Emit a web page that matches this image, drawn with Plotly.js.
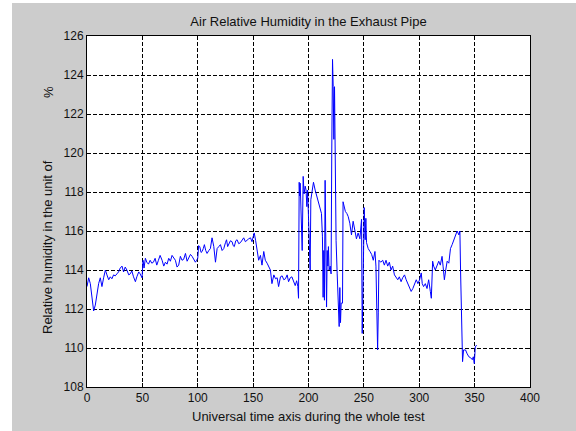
<!DOCTYPE html>
<html>
<head>
<meta charset="utf-8">
<script src="https://cdn.plot.ly/plotly-3.0.1.min.js"></script>
<style>
html,body{margin:0;padding:0;background:#ffffff;width:576px;height:431px;overflow:hidden;}
#chart{position:absolute;left:12px;top:3px;width:564px;height:428px;}
</style>
</head>
<body>
<div id="chart"></div>
<script>
const chartTitle = "Air Relative Humidity in the Exhaust Pipe";
const xLabel = "Universal time axis during the whole test";
const yLabelMain = "Relative humidity in the unit of";
const yLabelUnit = "%";
const xTicks = [0, 50, 100, 150, 200, 250, 300, 350, 400];
const yTicks = [108, 110, 112, 114, 116, 118, 120, 122, 124, 126];

const timeValues = [
0,1.5,3,4.5,6,7.5,9,10.5,12,13.5,15,16.6,18,19.6,21,22.5,24,25.5,27,28.5,30,31.6,33,34.5,36,37.7,39,40.5,42,43.7,45,46.7,48,49.7,
50.6,51.5,52.7,54,55.5,57,58.5,60,61.5,63,64.5,66,67.8,69.3,70.8,72.3,73.8,75.3,76.8,78.3,79.8,81.3,82.8,84.3,85.8,87.3,88.9,90.4,91.9,93.4,94.9,96.4,97.9,99,
100,100.8,101.8,103,104,105,106,107.2,108.4,110,111.4,112.9,114.5,116,117.5,119,120.5,122,123.5,125,126,127,128,129.5,131,132,133,134.3,135.5,137,138.5,140,141.5,143,144.5,146,147.6,149,
150,151,152.3,153.6,155,156.6,158,159.6,161,162.6,164,165.6,167,168.7,170.2,171.7,173,174.7,176.2,177.7,179.2,180.7,182,183.5,185,186.7,188,189.3,190.4,191,191.6,192,192.5,193.4,194.3,195.2,196,197,197.8,198.5,199.2,
200,200.8,201.5,202.1,203.3,204.5,206,207.5,210,211.7,212.6,213.2,213.8,214.4,215,215.6,216.3,216.9,217.5,218,218.6,219.6,220.4,221,221.7,222.3,222.9,223.5,224,224.9,225.9,227,227.7,228.3,228.9,229.5,230.7,231.2,232.2,233.3,234.6,235.8,237.3,238.8,240.3,241.8,243.3,244.8,246.4,247.9,248.5,249.4,
250.3,251.2,251.8,252.4,253.9,255.5,257,258.5,260,260.9,261.8,262.4,263,263.6,265.2,267,268.5,270,271.5,273,274.5,276,277.6,279,280.6,282,283.6,285,286.7,288.2,289.7,291.2,292.7,294.2,295.8,297.3,298.8,
300.3,301.8,302.7,303.9,305.5,307,308.5,310,310.9,312.1,313,314.5,316,317.6,319,320.6,321.5,322.7,323.9,325.2,326.7,328.2,329.7,331.2,332.7,334.2,335.8,336.7,337.3,338.2,339.1,340,341.8,343.3,344.8,346.4,347.9,348.8,349.7,350.6,351.8
];

const humidityValues = [
113.15,113.6,113.3,112.5,111.9,112.2,112.8,113.3,113.6,113.15,113.6,114.0,113.75,113.5,113.65,113.55,113.75,113.7,113.8,113.9,114.1,114.2,113.9,114.15,114.0,113.75,113.8,113.95,113.65,113.4,113.65,113.9,113.8,113.6,
114.5,114.1,114.6,114.4,114.3,114.5,114.35,114.4,114.6,114.25,114.5,114.75,114.5,114.2,114.4,114.3,114.6,114.45,114.75,114.6,114.5,114.15,114.25,114.7,114.5,114.55,114.85,114.45,114.6,114.8,114.7,114.55,114.4,114.5,
114.6,115.25,115.2,114.9,114.95,115.1,115.3,115.0,114.85,115.0,115.1,115.65,115.2,114.4,115.1,115.2,115.3,115.0,115.1,115.4,115.55,115.2,115.3,115.5,115.45,115.25,115.2,115.5,115.55,115.35,115.4,115.55,115.65,115.45,115.55,115.6,115.65,115.45,
115.7,115.9,115.5,115.05,114.5,114.75,114.25,114.95,114.5,114.35,114.2,114.0,113.3,113.75,113.55,113.6,113.15,113.65,113.7,113.5,113.55,113.75,113.4,113.6,113.65,113.4,113.2,113.45,113.15,112.55,118.5,117.8,118.45,117.1,115.0,118.8,117.9,118.3,118.1,117.25,118.1,
116.7,115.7,114.0,117.6,118.2,118.5,118.1,117.75,117.25,116.9,115.7,112.6,115.0,112.45,118.6,116.2,112.1,115.0,114.2,115.2,114.0,114.2,113.8,120.0,124.8,123.4,120.7,123.4,118.3,115.5,113.8,112.1,111.1,113.1,111.3,112.3,112.3,117.5,117.3,117.0,116.9,116.75,116.4,115.8,116.5,116.05,115.6,115.9,115.6,116.6,110.75,113.7,
117.2,115.55,116.65,115.4,115.1,114.95,114.8,114.5,114.95,114.2,111.3,109.9,111.8,114.5,114.4,114.5,114.25,114.5,114.2,114.4,114.0,114.2,113.75,113.65,113.5,113.65,113.4,113.6,113.75,113.5,113.3,113.15,112.9,113.05,113.3,113.5,113.3,
113.5,113.85,113.3,113.15,113.3,113.05,113.5,112.9,112.55,114.45,114.2,114.0,114.2,114.45,114.25,114.7,114.2,113.5,114.0,114.45,114.35,115.1,115.3,115.55,115.8,116.0,115.8,116.0,114.0,110.6,109.3,109.9,109.9,109.7,109.55,109.5,109.4,109.55,109.2,110.05,110.15
];

const tickFont = {family: "Liberation Sans, Arial, sans-serif", size: 12, color: "#111111"};
const labelFont = {family: "Liberation Sans, Arial, sans-serif", size: 13, color: "#111111"};

const trace = {
  x: timeValues,
  y: humidityValues,
  type: "scatter",
  mode: "lines",
  line: {color: "#0000ff", width: 1},
  hoverinfo: "x+y"
};

const axisCommon = {
  showline: true,
  linecolor: "#000000",
  linewidth: 1,
  mirror: "ticks",
  ticks: "inside",
  ticklen: 4,
  tickcolor: "#000000",
  showgrid: true,
  gridcolor: "#000000",
  gridwidth: 1,
  griddash: "4px,2px",
  zeroline: false,
  tickfont: tickFont,
  fixedrange: true
};

const layout = {
  width: 564,
  height: 428,
  margin: {l: 75, r: 46, t: 33, b: 44, pad: 0},
  paper_bgcolor: "#cccccc",
  plot_bgcolor: "#ffffff",
  showlegend: false,
  font: tickFont,
  title: {
    text: chartTitle,
    font: labelFont,
    x: 0.5, xref: "paper", xanchor: "center",
    y: 1 - 18.5/428, yref: "container", yanchor: "middle"
  },
  xaxis: Object.assign({}, axisCommon, {
    range: [0, 400],
    tickmode: "array",
    tickvals: xTicks,
    ticktext: xTicks.map(String)
  }),
  yaxis: Object.assign({}, axisCommon, {
    range: [108, 126],
    tickmode: "array",
    tickvals: yTicks,
    ticktext: yTicks.map(String)
  }),
  annotations: [
    {text: xLabel, xref: "paper", yref: "paper", x: 0.5, y: 0, yshift: -29,
     xanchor: "center", yanchor: "middle", showarrow: false, font: labelFont},
    {text: yLabelMain, xref: "paper", yref: "paper", x: 0, xshift: -40, y: 1 - (244-33)/351,
     xanchor: "center", yanchor: "middle", textangle: -90, showarrow: false, font: labelFont},
    {text: yLabelUnit, xref: "paper", yref: "paper", x: 0, xshift: -39, y: 1 - (89-33)/351,
     xanchor: "center", yanchor: "middle", textangle: -90, showarrow: false, font: labelFont}
  ]
};

Plotly.newPlot("chart", [trace], layout, {displayModeBar: false, staticPlot: true});
</script>
</body>
</html>
